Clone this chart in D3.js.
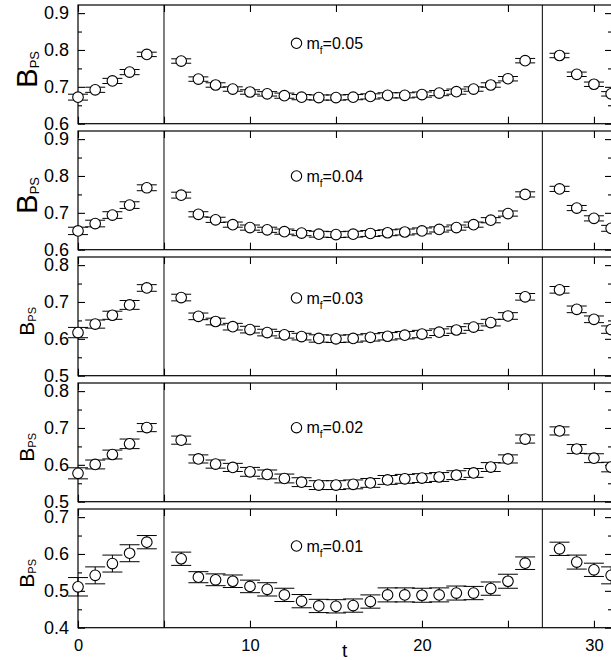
<!DOCTYPE html>
<html><head><meta charset="utf-8">
<script src="https://cdn.jsdelivr.net/npm/d3@7"></script>
<style>
body{margin:0;background:#fff}
svg{display:block}
text{font-family:"Liberation Sans",Arial,Helvetica,sans-serif;fill:#000}
</style>
</head><body><svg id="chart" width="611" height="660"></svg>
<script>
// ---------------- data ----------------
const tValues = [0,1,2,3,4, 6,7,8,9,10,11,12,13,14,15,16,17,18,19,20,21,22,23,24,25,26, 28,29,30,31];
const massLabels = ["0.05","0.04","0.03","0.02","0.01"];

const bps_mf005 = [0.672,0.692,0.716,0.740,0.788, 0.770,0.721,0.705,0.694,0.686,0.681,0.676,0.672,0.671,0.671,0.672,0.674,0.677,0.677,0.679,0.683,0.687,0.694,0.705,0.722,0.771, 0.785,0.734,0.707,0.681];
const err_mf005 = [0.008,0.007,0.007,0.007,0.006, 0.006,0.006,0.006,0.006,0.006,0.006,0.007,0.007,0.007,0.007,0.007,0.007,0.007,0.007,0.007,0.007,0.007,0.006,0.006,0.006,0.006, 0.006,0.006,0.006,0.006];

const bps_mf004 = [0.651,0.671,0.694,0.721,0.768, 0.748,0.696,0.681,0.668,0.660,0.654,0.649,0.645,0.642,0.641,0.642,0.644,0.646,0.648,0.651,0.655,0.660,0.668,0.680,0.698,0.750, 0.765,0.713,0.685,0.658];
const err_mf004 = [0.010,0.009,0.009,0.009,0.008, 0.008,0.007,0.007,0.007,0.007,0.007,0.007,0.007,0.008,0.008,0.008,0.008,0.008,0.008,0.008,0.007,0.007,0.007,0.007,0.007,0.007, 0.007,0.007,0.007,0.008];

const bps_mf003 = [0.617,0.640,0.664,0.692,0.738, 0.712,0.661,0.647,0.633,0.625,0.617,0.611,0.606,0.601,0.600,0.601,0.604,0.607,0.610,0.613,0.618,0.624,0.632,0.644,0.662,0.714, 0.733,0.680,0.653,0.625];
const err_mf003 = [0.014,0.011,0.011,0.012,0.009, 0.009,0.009,0.009,0.009,0.009,0.009,0.009,0.009,0.010,0.010,0.010,0.010,0.010,0.010,0.010,0.009,0.009,0.009,0.009,0.009,0.009, 0.009,0.009,0.009,0.010];

const bps_mf002 = [0.577,0.601,0.628,0.657,0.701, 0.667,0.616,0.602,0.593,0.581,0.574,0.563,0.553,0.545,0.545,0.547,0.551,0.559,0.562,0.564,0.567,0.572,0.578,0.594,0.616,0.670, 0.692,0.643,0.618,0.594];
const err_mf002 = [0.015,0.012,0.012,0.013,0.011, 0.011,0.011,0.011,0.011,0.012,0.012,0.012,0.012,0.012,0.012,0.012,0.012,0.012,0.012,0.012,0.012,0.012,0.012,0.012,0.011,0.011, 0.011,0.012,0.012,0.013];

const bps_mf001 = [0.511,0.542,0.574,0.602,0.632, 0.587,0.537,0.530,0.526,0.512,0.504,0.489,0.472,0.459,0.458,0.460,0.471,0.489,0.489,0.488,0.489,0.494,0.494,0.506,0.526,0.575, 0.614,0.578,0.557,0.542];
const err_mf001 = [0.025,0.023,0.023,0.023,0.018, 0.018,0.015,0.016,0.017,0.017,0.018,0.018,0.018,0.018,0.018,0.018,0.018,0.019,0.019,0.019,0.019,0.019,0.018,0.018,0.019,0.017, 0.018,0.019,0.018,0.023];

const seriesValues = [bps_mf005,bps_mf004,bps_mf003,bps_mf002,bps_mf001];
const seriesErrors = [err_mf005,err_mf004,err_mf003,err_mf002,err_mf001];
const yLower = [0.6,0.6,0.5,0.5,0.4];
const yMajorTicks = [[0.6,0.7,0.8,0.9],[0.6,0.7,0.8,0.9],[0.5,0.6,0.7,0.8],[0.5,0.6,0.7,0.8],[0.4,0.5,0.6,0.7]];
const xTicks = [0,5,10,15,20,25,30];
const xTickLabels = [0,10,20,30];
const separatorT = [5,27];
const xTitle = "t";

// ---------------- layout ----------------
const left = 78, right = 612;
const panelTop0 = 5, panelH = 118.7, panelStep = 126;
const ySpan = 0.322;
const legendOffset = [38.3, 45, 41, 44.7, 37];
const bigLabel = [true,true,false,false,false];

const svg = d3.select("#chart");
const x = d3.scaleLinear().domain([0,31.05]).range([left,right]);

function styleAxis(g){
  g.select(".domain").remove();
  g.selectAll("line").attr("stroke","#000").attr("stroke-width",1.1);
}

seriesValues.forEach((vals, p) => {
  const top = panelTop0 + p*panelStep, bottom = top + panelH;
  const y = d3.scaleLinear().domain([yLower[p], yLower[p]+ySpan]).range([bottom, top]);
  const g = svg.append("g");

  const minor = d3.range(0, 7).map(i => +(yLower[p] + i*0.05).toFixed(3)).filter(v => yMajorTicks[p].indexOf(v) < 0 && v <= yLower[p]+ySpan);

  // left axis
  g.append("g").attr("transform",`translate(${left},0)`)
    .call(d3.axisLeft(y).tickValues(yMajorTicks[p]).tickSize(-7).tickPadding(9).tickFormat(d3.format(".1f")))
    .call(styleAxis)
    .call(a => a.selectAll("text").attr("font-size",18).attr("font-family","Liberation Sans, Arial, sans-serif").attr("fill","#000"));
  g.append("g").attr("transform",`translate(${left},0)`)
    .call(d3.axisLeft(y).tickValues(minor).tickSize(-4).tickFormat(""))
    .call(styleAxis);
  // right axis
  g.append("g").attr("transform",`translate(${right},0)`)
    .call(d3.axisRight(y).tickValues(yMajorTicks[p]).tickSize(-7).tickFormat(""))
    .call(styleAxis);
  g.append("g").attr("transform",`translate(${right},0)`)
    .call(d3.axisRight(y).tickValues(minor).tickSize(-4).tickFormat(""))
    .call(styleAxis);
  // top & bottom
  g.append("g").attr("transform",`translate(0,${top})`)
    .call(d3.axisTop(x).tickValues(xTicks).tickSize(-7).tickFormat(""))
    .call(styleAxis);
  const bAx = g.append("g").attr("transform",`translate(0,${bottom})`)
    .call(d3.axisBottom(x).tickValues(xTicks).tickSize(-7).tickPadding(12)
      .tickFormat(d => (p === 4 && xTickLabels.indexOf(d) >= 0) ? d : ""))
    .call(styleAxis);
  bAx.selectAll("text").attr("font-size",16.5).attr("font-family","Liberation Sans, Arial, sans-serif").attr("fill","#000");

  // frame
  g.append("rect").attr("x",left).attr("y",top).attr("width",right-left).attr("height",panelH)
    .attr("fill","none").attr("stroke","#000").attr("stroke-width",1.2);

  // separators
  g.selectAll(".sep").data(separatorT).join("line")
    .attr("x1",d=>x(d)).attr("x2",d=>x(d)).attr("y1",top).attr("y2",bottom)
    .attr("stroke","#000").attr("stroke-width",1);

  const pts = tValues.map((t,i)=>({t, v: vals[i], e: seriesErrors[p][i]}));
  const eg = g.append("g").attr("stroke","#000").attr("stroke-width",1);
  eg.selectAll(".ev").data(pts).join("line")
    .attr("x1",d=>x(d.t)).attr("x2",d=>x(d.t)).attr("y1",d=>y(d.v-d.e)).attr("y2",d=>y(d.v+d.e));
  eg.selectAll(".cu").data(pts).join("line")
    .attr("x1",d=>x(d.t)-10).attr("x2",d=>x(d.t)+10).attr("y1",d=>y(d.v+d.e)).attr("y2",d=>y(d.v+d.e));
  eg.selectAll(".cl").data(pts).join("line")
    .attr("x1",d=>x(d.t)-10).attr("x2",d=>x(d.t)+10).attr("y1",d=>y(d.v-d.e)).attr("y2",d=>y(d.v-d.e));
  g.append("g").selectAll("circle").data(pts).join("circle")
    .attr("cx",d=>x(d.t)).attr("cy",d=>y(d.v)).attr("r",5.3)
    .attr("fill","#fff").attr("stroke","#000").attr("stroke-width",1.1);

  // legend
  const ly = top + legendOffset[p];
  g.append("circle").attr("cx",296.5).attr("cy",ly).attr("r",5.2).attr("fill","#fff").attr("stroke","#000").attr("stroke-width",1.1);
  const lt = g.append("text").attr("x",306.5).attr("y",ly).attr("dy","0.36em").attr("font-size",16);
  lt.append("tspan").text("m");
  lt.append("tspan").attr("font-size",10).attr("dy",5).text("f");
  lt.append("tspan").attr("dy",-5).text("=" + massLabels[p]);

  // y title
  const big = bigLabel[p];
  const yc = (top+bottom)/2 + 5;
  const bx = big ? 37 : 33.5;
  const yt = g.append("text").attr("transform",`translate(${bx},${yc}) rotate(-90)`)
    .attr("text-anchor","middle").attr("font-size", big ? 29 : 21);
  yt.append("tspan").text("B");
  yt.append("tspan").attr("font-size", big ? 13 : 11).attr("dy", 2).text("PS");
});

svg.append("text").attr("x",x(15.5)).attr("y",656.5).attr("text-anchor","middle").attr("font-size",19).text(xTitle);
</script>
</body></html>
